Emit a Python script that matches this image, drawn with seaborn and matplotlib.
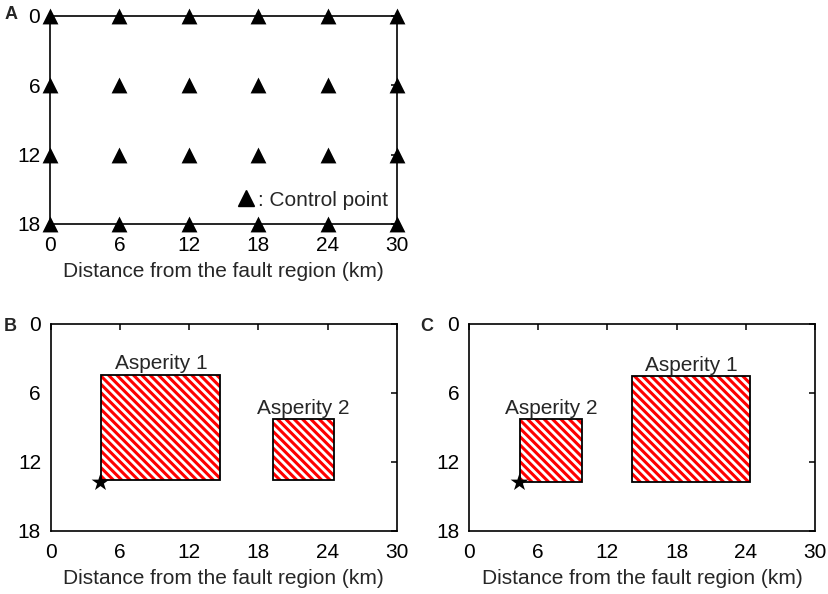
import pandas as pd
import matplotlib.pyplot as plt
import seaborn as sns
from matplotlib.patches import Rectangle
from matplotlib.lines import Line2D

# control point grid (km along strike, km down dip)
cp_x = [0, 6, 12, 18, 24, 30]
cp_y = [0, 6, 12, 18]

# asperity layouts, panel B and C
asp_names = ["Asperity 1", "Asperity 2"]
b_x0 = [4.4, 19.25]
b_x1 = [14.7, 24.6]
b_top = [4.4, 8.25]
b_bot = [13.6, 13.6]
c_x0 = [14.1, 4.45]
c_x1 = [24.4, 9.8]
c_top = [4.5, 8.25]
c_bot = [13.7, 13.7]

# hypocenters
hypo_b_x, hypo_b_y = [4.3], [13.75]
hypo_c_x, hypo_c_y = [4.35], [13.75]

xticks = [0, 6, 12, 18, 24, 30]
yticks = [0, 6, 12, 18]
xlabel = "Distance from the fault region (km)"

sns.set_theme(style="white")
plt.rcParams["font.family"] = ["Liberation Sans", "DejaVu Sans"]
plt.rcParams["font.size"] = 15
plt.rcParams["hatch.linewidth"] = 2.2

fig = plt.figure(figsize=(8.29, 5.94), dpi=100)
axA = fig.add_axes([0.0603, 0.6229, 0.4186, 0.3502])
axB = fig.add_axes([0.0612, 0.1061, 0.4174, 0.3485])
axC = fig.add_axes([0.5657, 0.1061, 0.4174, 0.3485])


def style(ax):
    ax.set_xlim(0, 30)
    ax.set_ylim(18, 0)
    ax.set_xticks(xticks)
    ax.set_yticks(yticks)
    ax.tick_params(direction="in", length=4, width=1.1, colors="black",
                   labelsize=15, top=True, right=True)
    ax.tick_params(axis="x", pad=9)
    ax.tick_params(axis="y", pad=7)
    for s in ax.spines.values():
        s.set_color("black")
        s.set_linewidth(1.2)
    ax.set_xlabel(xlabel, fontsize=15, labelpad=5)
    ax.set_ylabel("")


# panel A: control points
grid = pd.DataFrame([(x, y) for y in cp_y for x in cp_x], columns=["x", "y"])
sns.scatterplot(data=grid, x="x", y="y", marker="^", s=130, color="black",
                edgecolor="black", linewidth=0, ax=axA, clip_on=False, zorder=5)
style(axA)
handle = Line2D([], [], marker="^", color="black", linestyle="none", markersize=11)
axA.legend(handles=[handle], labels=[": Control point"], loc="center right",
           bbox_to_anchor=(0.975, 0.115), frameon=False, borderpad=0,
           borderaxespad=0, handletextpad=0.1, handlelength=1.0, fontsize=15)


def draw_asperities(ax, x0s, x1s, tops, bots, hx, hy):
    for name, x0, x1, t, b in zip(asp_names, x0s, x1s, tops, bots):
        ax.add_patch(Rectangle((x0, t), x1 - x0, b - t, facecolor="white",
                               edgecolor="red", linewidth=0, hatch="\\\\\\\\", zorder=2))
        ax.add_patch(Rectangle((x0, t), x1 - x0, b - t, facecolor="none",
                               edgecolor="black", linewidth=1.3, zorder=3))
        ax.text((x0 + x1) / 2, t - 0.1, name, ha="center", va="bottom", fontsize=15)
    sns.scatterplot(x=hx, y=hy, marker="*", s=180, color="black",
                    linewidth=0, ax=ax, zorder=6, clip_on=False)
    style(ax)


draw_asperities(axB, b_x0, b_x1, b_top, b_bot, hypo_b_x, hypo_b_y)
draw_asperities(axC, c_x0, c_x1, c_top, c_bot, hypo_c_x, hypo_c_y)

for lab, x, y in [("A", 0.005, 0.99), ("B", 0.005, 0.464), ("C", 0.507, 0.464)]:
    fig.text(x, y, lab, fontsize=13, fontweight="bold", ha="left", va="top")

fig.savefig("out.png", dpi=100)
